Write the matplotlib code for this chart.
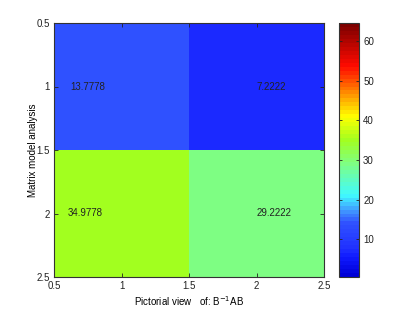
import numpy as np
import matplotlib
matplotlib.use("Agg")
import matplotlib.pyplot as plt
from matplotlib.colors import LinearSegmentedColormap, BoundaryNorm, Normalize

plt.rcParams['font.family'] = ['Liberation Sans', 'DejaVu Sans']

values = np.array([[13.7778, 7.2222],
                   [34.9778, 29.2222]])
labels = [["13.7778", "7.2222"], ["34.9778", "29.2222"]]
label_x = [[0.62, 2.0], [0.6, 2.0]]
xticks = [0.5, 1, 1.5, 2, 2.5]
yticks = [0.5, 1, 1.5, 2, 2.5]
cticks = [10, 20, 30, 40, 50, 60]

vmin, vmax = 0.5, 64.5
# colour anchors (value, rgb)
anchors = [
    (0.5, (0, 0, 215)),
    (5.0, (15, 25, 255)),
    (7.2, (32, 48, 255)),
    (13.8, (48, 82, 255)),
    (17.0, (64, 150, 255)),
    (21.0, (64, 250, 255)),
    (29.2, (128, 255, 128)),
    (35.0, (162, 255, 32)),
    (41.0, (255, 255, 0)),
    (47.0, (255, 140, 0)),
    (54.0, (255, 10, 0)),
    (64.5, (125, 0, 0)),
]
cmap = LinearSegmentedColormap.from_list(
    'refjet', [((v - vmin) / (vmax - vmin), tuple(c / 255 for c in rgb)) for v, rgb in anchors], N=64)
norm = Normalize(vmin, vmax)

fig = plt.figure(figsize=(4.15, 3.13), dpi=100)
ax = fig.add_axes([54/415, 1-277/313, 270/415, 254/313])
im = ax.imshow(values, cmap=cmap, norm=norm, extent=[0.5, 2.5, 2.5, 0.5],
               aspect='auto', interpolation='nearest')
for i in range(2):
    for j in range(2):
        ax.text(label_x[i][j], i + 1, labels[i][j], fontsize=7, color='#222222',
                ha='left', va='center')
ax.set_xlim(0.5, 2.5)
ax.set_ylim(2.5, 0.5)
ax.set_xticks(xticks)
ax.set_xticklabels(['0.5', '1', '1.5', '2', '2.5'])
ax.set_yticks(yticks)
ax.set_yticklabels(['0.5', '1', '1.5', '2', '2.5'])
ax.tick_params(direction='in', length=3, width=0.6, labelsize=7, colors='#222222',
               top=True, right=True, pad=3)
for s in ax.spines.values():
    s.set_linewidth(0.8)
    s.set_color('#333333')
ax.set_xlabel(r'Pictorial view   of: B$^{-1}$AB', fontsize=7, labelpad=2)
ax.set_ylabel('Matrix model analysis', fontsize=7, labelpad=-1)

cax = fig.add_axes([339/415, 1-277/313, 20/415, 254/313])
sm = matplotlib.cm.ScalarMappable(cmap=cmap, norm=norm)
cb = fig.colorbar(sm, cax=cax)
cb.set_ticks(cticks)
cax.tick_params(direction='in', length=2, width=0.6, labelsize=7, colors='#222222',
                left=True, right=True, pad=3)
cb.outline.set_linewidth(0.8)
cb.outline.set_edgecolor('#333333')

fig.savefig('out.png', dpi=100)
